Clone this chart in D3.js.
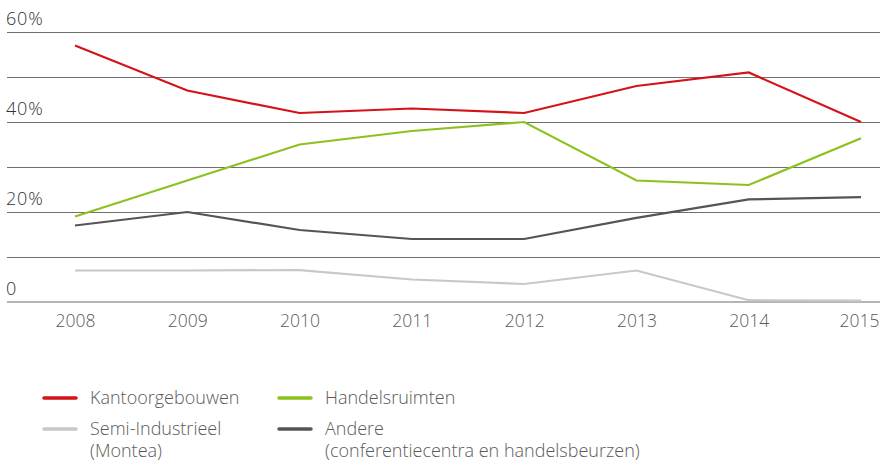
<!DOCTYPE html>
<html><head><meta charset="utf-8">
<script src="https://cdn.jsdelivr.net/npm/d3@7"></script>
<style>body{margin:0;background:#fff}svg{display:block}text{font-family:"Open Sans",Roboto,sans-serif;font-weight:300;fill:#5a5a5a}</style>
</head><body><svg id="c" width="880" height="464"></svg>
<script>
const years = [2008, 2009, 2010, 2011, 2012, 2013, 2014, 2015];
const kantoor = [57, 47, 42, 43, 42, 48, 51, 40];
const handels = [19, 27, 35, 38, 40, 27, 26, 36.4];
const andere = [17, 20, 16, 14, 14, 18.7, 22.8, 23.3];
const semi = [7, 7, 7.1, 5, 4, 7, 0.4, 0.3];
const yTicks = [0, 10, 20, 30, 40, 50, 60];
const yLabels = [0, 20, 40, 60];
const seriesNames = ["Kantoorgebouwen", "Handelsruimten", "Semi-Industrieel|(Montea)", "Andere|(conferentiecentra en handelsbeurzen)"];
const colors = ["#d5121a", "#8cc21d", "#c8c8c8", "#555555"];

const svg = d3.select("#c");
const x = d3.scalePoint().domain(years).range([75, 861]);
const y = d3.scaleLinear().domain([0, 60]).range([302, 32]);

svg.append("g").selectAll("line").data(yTicks).join("line")
  .attr("x1", 7).attr("x2", 880)
  .attr("y1", d => y(d)).attr("y2", d => y(d))
  .attr("stroke", d => d === 0 ? "#b4b4b4" : "#707070")
  .attr("stroke-width", d => d === 0 ? 2 : 1)
  .attr("shape-rendering", "crispEdges");

svg.append("g").selectAll("text").data(yLabels).join("text")
  .attr("x", 6).attr("y", d => y(d) - 7)
  .attr("font-size", 18).attr("letter-spacing", 0.8).style("fill", "#333")
  .text(d => d === 0 ? "0" : d + "%");

const xAxis = svg.append("g").attr("transform", "translate(0,302)")
  .call(d3.axisBottom(x).tickSize(0).tickPadding(10));
xAxis.select(".domain").remove();
xAxis.selectAll("text").attr("font-size", 17.5).attr("fill", "#666").attr("dy", "0.88em")
  .style("font-family", "'Open Sans',Roboto,sans-serif").style("font-weight", 300);
xAxis.selectAll(".tick").filter(d => d === years[years.length - 1]).select("text").attr("dx", -2);

const series = [kantoor, handels, semi, andere];
const line = d3.line().x((d, i) => x(years[i])).y(d => y(d));
[2, 3, 1, 0].forEach(k => {
  svg.append("path").datum(series[k]).attr("d", line)
    .attr("fill", "none").attr("stroke", colors[k]).attr("stroke-width", 2.2)
    .attr("stroke-linejoin", "miter");
});

const legPos = [[44, 398], [279, 398], [44, 429], [279, 429]];
seriesNames.forEach((name, i) => {
  const [lx, ly] = legPos[i];
  const g = svg.append("g");
  g.append("line").attr("x1", lx).attr("x2", lx + 32).attr("y1", ly).attr("y2", ly)
    .attr("stroke", colors[i]).attr("stroke-width", 3.5).attr("stroke-linecap", "round");
  name.split("|").forEach((t, j) => {
    g.append("text").attr("x", lx + 46).attr("y", ly + 6 + j * 22).attr("font-size", 18).text(t);
  });
});
</script></body></html>
